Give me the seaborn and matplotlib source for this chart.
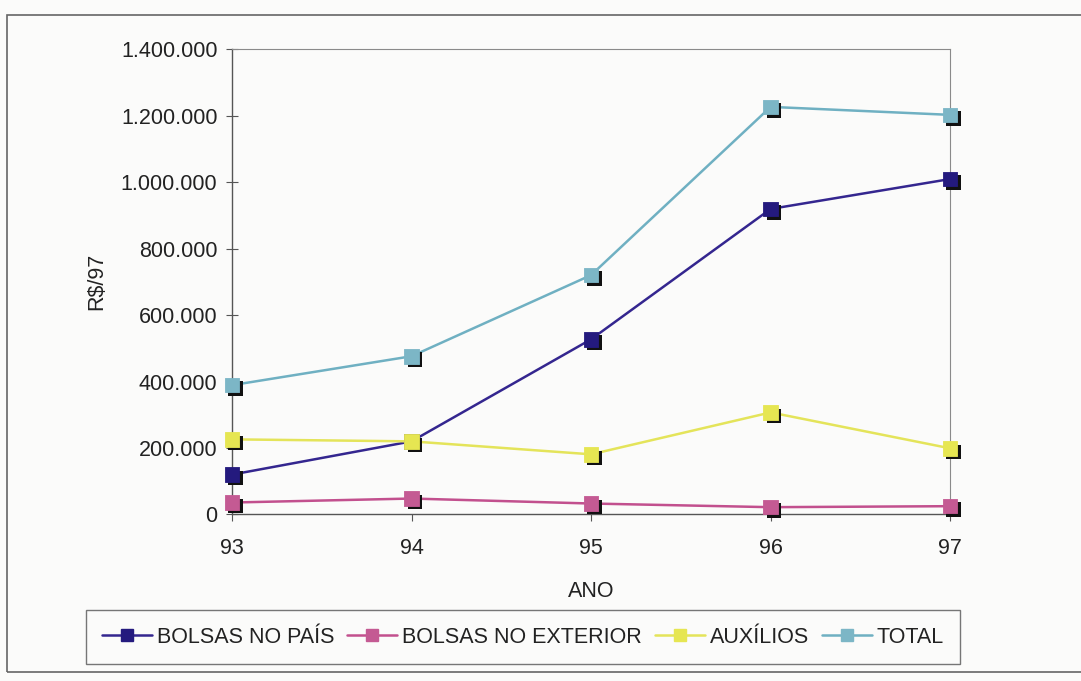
import matplotlib
matplotlib.use("Agg")
import matplotlib.pyplot as plt
import matplotlib.patheffects as pe
from matplotlib.lines import Line2D
from matplotlib.patches import Rectangle
from matplotlib.ticker import FuncFormatter, FixedLocator
import seaborn as sns
import pandas as pd

anos = ["93", "94", "95", "96", "97"]
bolsas_pais = [120000, 220000, 527000, 919000, 1009000]
bolsas_exterior = [36000, 48000, 33000, 22000, 25000]
auxilios = [226000, 220000, 181000, 307000, 199000]
total = [389000, 476000, 720000, 1226000, 1202000]

series_names = ["BOLSAS NO PAÍS", "BOLSAS NO EXTERIOR", "AUXÍLIOS", "TOTAL"]
series_values = [bolsas_pais, bolsas_exterior, auxilios, total]
line_colors = ["#34268f", "#c2508e", "#e4e45a", "#6fb0c2"]
face_colors = ["#241a7e", "#c45a93", "#e6e652", "#7cb6c6"]

rows = []
for name, vals in zip(series_names, series_values):
    for i, v in enumerate(vals):
        rows.append({"ano": i, "valor": v, "serie": name})
df = pd.DataFrame(rows)

sns.set_theme(style="white")
plt.rcParams["font.family"] = ["Liberation Sans", "DejaVu Sans"]

FS = 15.5
fig = plt.figure(figsize=(10.81, 6.81), dpi=100)
fig.patch.set_facecolor("#fbfbfa")
ax = fig.add_axes([0.2146, 0.2445, 0.879 - 0.2146, 0.928 - 0.2445])
ax.set_facecolor("#fbfbfa")

sns.lineplot(data=df, x="ano", y="valor", hue="serie", hue_order=series_names,
             palette=line_colors, linewidth=1.8, legend=False, ax=ax, zorder=3)

shadow = [pe.SimplePatchShadow(offset=(2.5, -2.5), shadow_rgbFace="#111111", alpha=1.0),
          pe.Normal()]
for name, fc in zip(series_names, face_colors):
    sub = df[df["serie"] == name]
    sc = ax.scatter(sub["ano"], sub["valor"], marker="s", s=110, color=fc,
                    edgecolors=fc, linewidths=0.6, zorder=4, clip_on=False)
    sc.set_path_effects(shadow)

ax.set_xlim(0, len(anos) - 1)
ax.set_ylim(0, 1400000)
ax.xaxis.set_major_locator(FixedLocator(range(len(anos))))
ax.set_xticklabels(anos)
ax.yaxis.set_major_locator(FixedLocator(range(0, 1400001, 200000)))
ax.yaxis.set_major_formatter(
    FuncFormatter(lambda v, p: f"{int(v):,}".replace(",", ".")))

ax.tick_params(axis="y", direction="inout", length=9, width=0.8,
               color="#555555", labelsize=FS, pad=6, left=True)
ax.tick_params(axis="x", direction="out", length=5, width=0.8,
               color="#555555", labelsize=FS, pad=12, bottom=True)
for lab in ax.get_xticklabels() + ax.get_yticklabels():
    lab.set_color("#222222")

for side in ["left", "bottom"]:
    ax.spines[side].set_color("#555555")
    ax.spines[side].set_linewidth(1.0)
for side in ["top", "right"]:
    ax.spines[side].set_color("#8a8a8a")
    ax.spines[side].set_linewidth(0.8)

ax.set_xlabel("ANO", fontsize=FS, color="#222222", labelpad=16)
ax.set_ylabel("R$/97", fontsize=FS, color="#222222", labelpad=10)

handles = [Line2D([0], [0], color=lc, lw=1.8, marker="s", markersize=9,
                  markerfacecolor=fc, markeredgecolor=fc)
           for lc, fc in zip(line_colors, face_colors)]
leg = fig.legend(handles, series_names, loc="center",
                 bbox_to_anchor=(0.484, 0.0646), ncol=4, fontsize=FS,
                 frameon=True, fancybox=False, handlelength=2.3,
                 handletextpad=0.25, columnspacing=0.6, borderpad=0.75,
                 edgecolor="#555555", facecolor="#fbfbfa")
leg.get_frame().set_linewidth(1.0)
for t in leg.get_texts():
    t.set_color("#222222")

fig.patches.append(Rectangle((7 / 1081, 9 / 681), 1.1, 657 / 681,
                             transform=fig.transFigure, fill=False,
                             edgecolor="#666666", linewidth=1.2))

fig.savefig("out.png", dpi=100, facecolor=fig.get_facecolor())
